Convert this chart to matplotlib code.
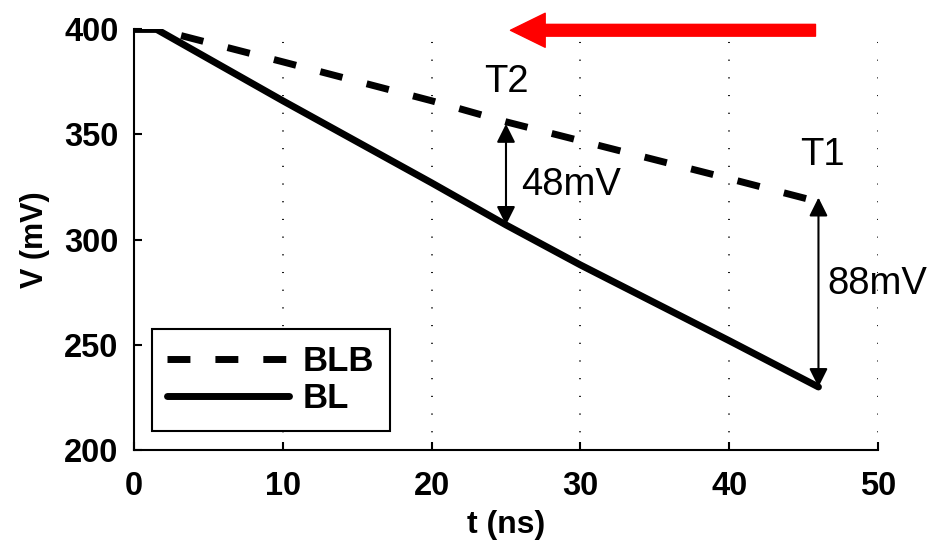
import matplotlib
matplotlib.use("Agg")
import matplotlib.pyplot as plt

plt.rcParams['font.family'] = ['Liberation Sans', 'DejaVu Sans']

# bit line voltages
t_ns = [0, 1.5, 10, 20, 25, 30, 40, 46]
v_bl = [400, 400, 366, 327, 307, 288, 252, 230]
v_blb = [400, 400, 384.5, 366, 356, 347, 329, 318]

x_ticks = [0, 10, 20, 30, 40, 50]
y_ticks = [200, 250, 300, 350, 400]

# annotations (time, low, high, text)
t2 = (25, 307, 355, "48mV")
t1 = (46, 230, 320, "88mV")

fig = plt.figure(figsize=(9.28, 5.41), dpi=100)
ax = fig.add_axes([0.1444, 0.168, 0.8017, 0.778])

ax.plot(t_ns, v_blb, color="black", lw=5, dashes=(3.3, 3.6), label="BLB")
ax.plot(t_ns, v_bl, color="black", lw=5, label="BL", solid_capstyle="round")

ax.set_xlim(0, 50)
ax.set_ylim(200, 400)
ax.set_xticks(x_ticks)
ax.set_yticks(y_ticks)
ax.spines['top'].set_visible(False)
ax.spines['right'].set_visible(False)
ax.spines['left'].set_linewidth(1.5)
ax.spines['bottom'].set_linewidth(1.5)
ax.tick_params(direction="in", length=6, width=1.5, labelsize=23.5)
ax.tick_params(axis="y", pad=11)
ax.tick_params(axis="x", pad=15)
for lab in ax.get_xticklabels() + ax.get_yticklabels():
    lab.set_fontweight("bold")
ax.xaxis.grid(True, color="black", linestyle=(0, (0.6, 9.2)), lw=1.3)

ax.set_xlabel("t (ns)", fontsize=23, fontweight="bold", labelpad=6)
ax.set_ylabel("V (mV)", fontsize=22, fontweight="bold", labelpad=10)

# double arrows for the differences
for t, lo, hi, txt in [t2, t1]:
    ax.annotate("", xy=(t, lo), xytext=(t, hi),
                arrowprops=dict(arrowstyle="<|-|>", color="black", lw=1.5,
                                mutation_scale=28, shrinkA=0, shrinkB=0))
ax.text(26.0, 326, t2[3], fontsize=27.5, va="center", ha="left")
ax.text(46.6, 279, t1[3], fontsize=27.5, va="center", ha="left")
ax.text(25.0, 375, "T2", fontsize=27.5, va="center", ha="center")
ax.text(46.3, 340, "T1", fontsize=27.5, va="center", ha="center")

# red direction arrow along the top
ax.annotate("", xy=(25.3, 399.5), xytext=(45.8, 399.5), annotation_clip=False,
            arrowprops=dict(facecolor="red", edgecolor="red", width=8.5,
                            headwidth=24.5, headlength=25, shrink=0))

leg = ax.legend(loc="lower left", bbox_to_anchor=(0.024, 0.046),
                prop=dict(weight="bold", size=25), fancybox=False,
                framealpha=1, handlelength=3.5, handletextpad=0.4,
                borderpad=0.45, labelspacing=0.12, borderaxespad=0)
leg.get_frame().set_edgecolor("black")
leg.get_frame().set_linewidth(1.5)

fig.savefig("out.png", dpi=100)
